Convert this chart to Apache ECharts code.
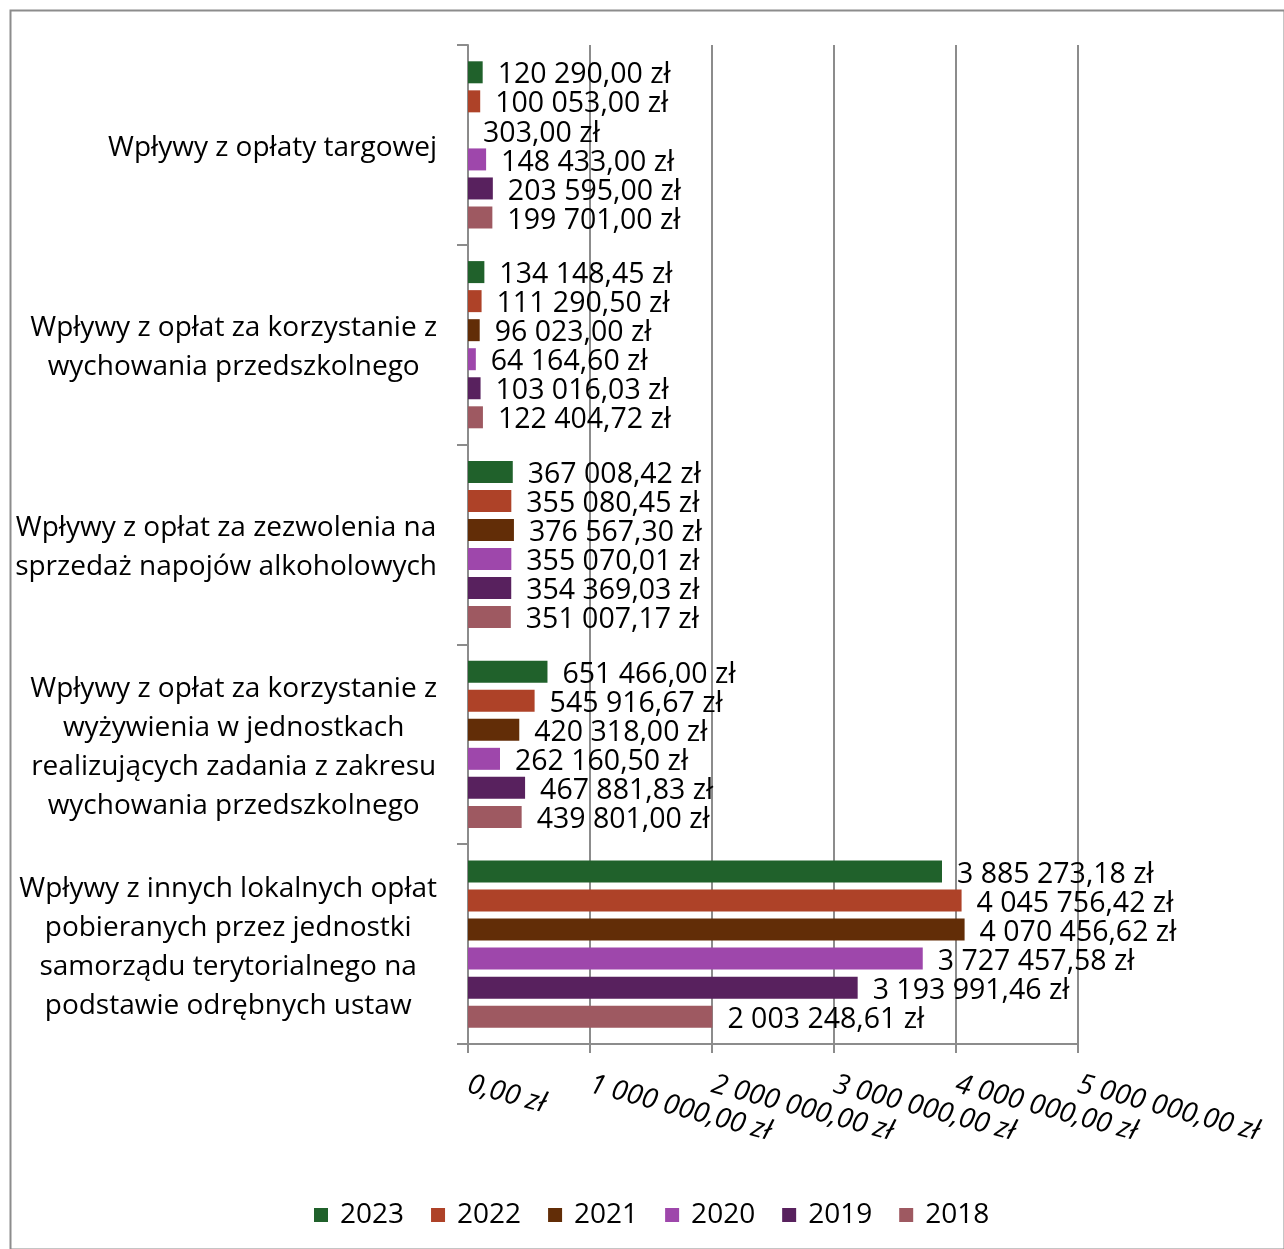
<!DOCTYPE html>
<html>
<head>
<meta charset="utf-8">
<script src="https://cdn.jsdelivr.net/npm/echarts@6/dist/echarts.min.js"></script>
<style>
  html, body { margin: 0; padding: 0; background: #ffffff; }
  #chart { width: 1284px; height: 1249px; }
</style>
</head>
<body>
<div id="chart"></div>
<script>
// Categories listed top to bottom (line breaks as drawn)
const categories = [
  'Wpływy z opłaty targowej',
  'Wpływy z opłat za korzystanie z\nwychowania przedszkolnego',
  'Wpływy z opłat za zezwolenia na\nsprzedaż napojów alkoholowych',
  'Wpływy z opłat za korzystanie z\nwyżywienia w jednostkach\nrealizujących zadania z zakresu\nwychowania przedszkolnego',
  'Wpływy z innych lokalnych opłat\npobieranych przez jednostki\nsamorządu terytorialnego na\npodstawie odrębnych ustaw'
];

const years = ['2023', '2022', '2021', '2020', '2019', '2018'];

const values2023 = [120290.00, 134148.45, 367008.42, 651466.00, 3885273.18];
const values2022 = [100053.00, 111290.50, 355080.45, 545916.67, 4045756.42];
const values2021 = [303.00, 96023.00, 376567.30, 420318.00, 4070456.62];
const values2020 = [148433.00, 64164.60, 355070.01, 262160.50, 3727457.58];
const values2019 = [203595.00, 103016.03, 354369.03, 467881.83, 3193991.46];
const values2018 = [199701.00, 122404.72, 351007.17, 439801.00, 2003248.61];

const seriesValues = [values2023, values2022, values2021, values2020, values2019, values2018];
const colors = ['#20612b', '#ae4228', '#622d07', '#9e47ab', '#58215e', '#9e5961'];

const axisMin = 0;
const axisMax = 5000000;
const axisStep = 1000000;

// Polish currency format: "1 234 567,89 zł"
function fmtPLN(v) {
  const parts = Number(v).toFixed(2).split('.');
  const intPart = parts[0].replace(/\B(?=(\d{3})+(?!\d))/g, ' ');
  return intPart + ',' + parts[1] + ' zł';
}

const FONT = '"Open Sans", "Noto Sans", sans-serif';
const GRAY = '#8c8c8c';

const chart = echarts.init(document.getElementById('chart'), null, { renderer: 'canvas' });

const series = years.map((y, i) => ({
  name: y,
  type: 'bar',
  data: seriesValues[i],
  barWidth: 22,
  barGap: '32%',
  itemStyle: { color: colors[i] },
  label: {
    show: true,
    position: 'right',
    distance: 15,
    offset: [0, 3],
    color: '#000',
    fontFamily: FONT,
    fontSize: 28.5,
    formatter: p => fmtPLN(p.value)
  },
  z: 3
}));

chart.setOption({
  animation: false,
  backgroundColor: '#ffffff',
  color: colors,
  textStyle: { fontFamily: FONT },
  grid: { left: 468, right: 206, top: 45, bottom: 205, containLabel: false },
  xAxis: {
    type: 'value',
    min: axisMin,
    max: axisMax,
    interval: axisStep,
    axisLine: { show: true, lineStyle: { color: GRAY, width: 2 } },
    axisTick: { show: true, length: 9, lineStyle: { color: GRAY, width: 2 } },
    splitLine: { show: true, lineStyle: { color: GRAY, width: 2 } },
    axisLabel: {
      rotate: -15,
      margin: 40,
      color: '#000',
      fontFamily: FONT,
      fontSize: 28,
      fontStyle: 'italic',
      formatter: v => fmtPLN(v)
    }
  },
  yAxis: {
    type: 'category',
    inverse: true,
    data: categories,
    axisLine: { show: true, lineStyle: { color: GRAY, width: 2 } },
    axisTick: { show: true, length: 11, lineStyle: { color: GRAY, width: 2 } },
    axisLabel: {
      margin: 31,
      align: 'right',
      padding: [6, 0, 0, 0],
      color: '#000',
      fontFamily: FONT,
      formatter: v => v.split('\n').map(l => '{c|' + l + '}').join('\n'),
      rich: {
        c: { align: 'center', fontSize: 28, lineHeight: 39, fontFamily: FONT, color: '#000' }
      }
    }
  },
  legend: {
    data: years,
    left: 309,
    top: 1196,
    icon: 'rect',
    itemWidth: 14,
    itemHeight: 14,
    itemGap: 27,
    textStyle: { color: '#000', fontFamily: FONT, fontSize: 28, padding: [0, 0, 0, 7] }
  },
  graphic: [{
    type: 'rect',
    left: 8,
    top: 8,
    shape: { width: 1274, height: 1239 },
    style: { fill: 'none', stroke: GRAY, lineWidth: 2 },
    silent: true
  }],
  series: series
});
</script>
</body>
</html>
